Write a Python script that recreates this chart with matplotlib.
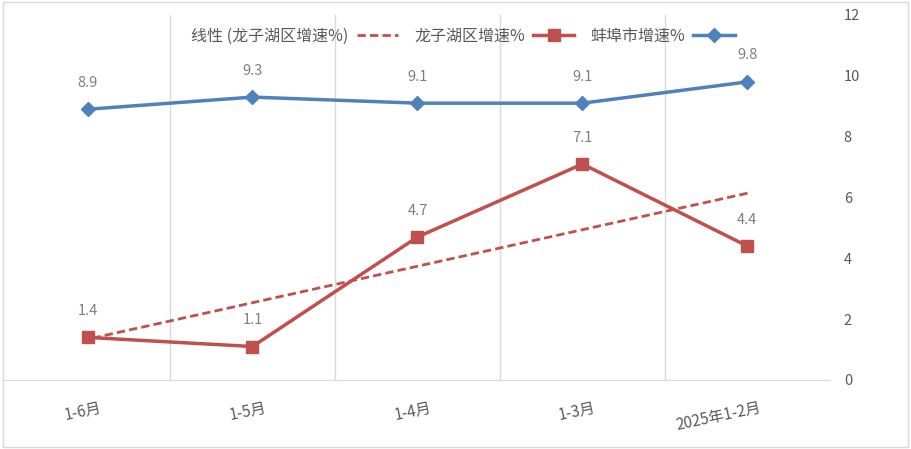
import matplotlib.pyplot as plt
from matplotlib.patches import Rectangle
import numpy as np

plt.rcParams['font.family'] = ['Noto Sans CJK SC', 'DejaVu Sans']

# 数据（原图为左右镜像，类别从右向左排列）
categories = ['2025年1-2月', '1-3月', '1-4月', '1-5月', '1-6月']
bengbu = [9.8, 9.1, 9.1, 9.3, 8.9]
longzihu = [4.4, 7.1, 4.7, 1.1, 1.4]
y_ticks = [0, 2, 4, 6, 8, 10, 12]

blue = '#4F81BD'
red = '#C0504D'
gray = '#595959'

fig = plt.figure(figsize=(9.12, 4.49), dpi=100)
fig.patches.append(Rectangle((0.003, 0.005), 0.993, 0.99, transform=fig.transFigure,
                             fill=False, edgecolor='#d9d9d9', linewidth=1))
ax = fig.add_axes([0.0055, 0.1537, 0.9045, 0.813])

x = np.arange(1, len(categories) + 1)

# 线性趋势线
k, b = np.polyfit(x, longzihu, 1)
trend = k * x + b

l1, = ax.plot(x, bengbu, color=blue, linewidth=2.5, marker='D', markersize=7, label='蚌埠市增速%')
l2, = ax.plot(x, longzihu, color=red, linewidth=2.5, marker='s', markersize=9, label='龙子湖区增速%')
l3, = ax.plot(x, trend, color=red, linewidth=2, linestyle=(0, (3, 1.5)), label='线性 (龙子湖区增速%)')

for xi, v in zip(x, bengbu):
    ax.annotate(f'{v}', (xi, v), textcoords='offset points', xytext=(0, 19),
                ha='center', va='center', fontsize=10.5, color='#7f7f7f')
for xi, v in zip(x, longzihu):
    ax.annotate(f'{v}', (xi, v), textcoords='offset points', xytext=(0, 19),
                ha='center', va='center', fontsize=10.5, color='#7f7f7f')

ax.set_xlim(0.5, len(categories) + 0.5)
ax.invert_xaxis()
ax.set_ylim(0, 12)
ax.set_yticks(y_ticks)
ax.yaxis.tick_right()
ax.tick_params(axis='y', length=0, pad=10, labelsize=10.5, labelcolor=gray)

# 轴反向，减小x让标签右移
ax.set_xticks(x - 0.07)
ax.set_xticklabels(categories, rotation=12, ha='right', rotation_mode='anchor',
                   fontsize=11, color=gray)
ax.tick_params(axis='x', length=0, pad=14)
ax.set_xticks(np.arange(1.5, len(categories), 1), minor=True)
ax.grid(True, axis='x', which='minor', color='#d9d9d9', linewidth=1)
ax.tick_params(axis='x', which='minor', length=0)

for s in ['top', 'left', 'right']:
    ax.spines[s].set_visible(False)
ax.spines['bottom'].set_color('#d9d9d9')

ax.legend([l3, l2, l1], [l3.get_label(), l2.get_label(), l1.get_label()],
          loc='upper center', bbox_to_anchor=(0.555, 1.005), ncol=3, frameon=False,
          markerfirst=False, fontsize=11.5, handlelength=2.6, columnspacing=1.0,
          handletextpad=0.5, labelcolor=gray)

fig.savefig('out.png', dpi=100)
